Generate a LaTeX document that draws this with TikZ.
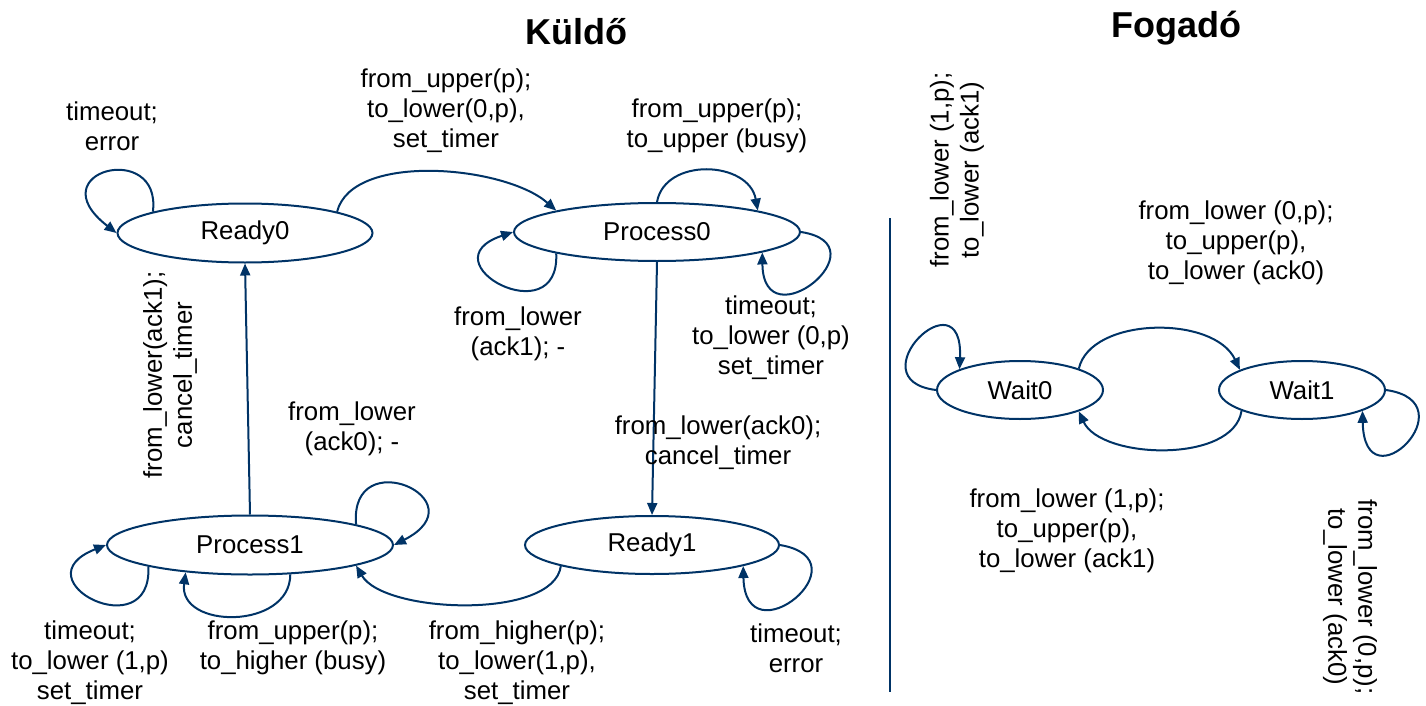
\documentclass[tikz,border=0pt]{standalone}
\usepackage{fontspec}
\setmainfont{Liberation Sans}
\usetikzlibrary{shapes.geometric,arrows.meta}
\definecolor{edgeblue}{RGB}{0,51,102}
\begin{document}
\begin{tikzpicture}[x=1pt,y=-1pt,
  st/.style={ellipse, draw=edgeblue, line width=2pt, inner sep=0pt, font=\fontsize{25.8}{30}\selectfont},
  arr/.style={draw=edgeblue, line width=2pt, -{Triangle[length=12pt,width=10pt]}},
  lbl/.style={align=center, font=\fontsize{25.8}{30}\selectfont, inner sep=0pt},
  ttl/.style={font=\fontsize{36}{40}\selectfont\bfseries}]
\useasboundingbox (0,0) rectangle (1426,706);

% titles
\node[ttl] (t1) at (576,32) {Küldő};
\node[ttl] (t2) at (1176,28) {Fogadó};

% states
\node[st, minimum width=255pt, minimum height=59pt] (R0) at (245,233) {Ready0};
\node[st, minimum width=286pt, minimum height=58pt] (P0) at (657,232) {Process0};
\node[st, minimum width=286pt, minimum height=59pt] (P1) at (250,545) {Process1};
\node[st, minimum width=254pt, minimum height=58pt] (R1) at (652,545) {Ready1};
\node[st, minimum width=166pt, minimum height=58pt] (W0) at (1020,390) {Wait0};
\node[st, minimum width=166pt, minimum height=58pt] (W1) at (1302,390) {Wait1};

% separator
\coordinate (s1) at (890,218);
\coordinate (s2) at (890,692);
\draw[edgeblue, line width=2pt] (s1) -- (s2);

% connectors
\draw[arr] (R0.167) .. controls +(9,-72) and +(-80,-62) .. (R0.west);
\draw[arr] (R0.13) .. controls +(15,-60) and +(-51,-45) .. (P0.168);
\draw[arr] (P0.north) .. controls +(8,-45) and +(-9,-50) .. (P0.12);
\draw[arr] (P0.192) .. controls +(4,82) and +(-89,30) .. (P0.west);
\draw[arr] (P0.east) .. controls +(84,13) and +(1,91) .. (P0.349);
\draw[arr] (P0.south) -- (R1.north);
\draw[arr] (P1.north) -- (R0.south);
\draw[arr] (P1.11) .. controls +(-7,-83) and +(88,-45) .. (P1.east);
\draw[arr] (P1.192) .. controls +(4,82) and +(-89,35) .. (P1.west);
\draw[arr] (P1.324) .. controls +(0,56) and +(-8,57) .. (P1.203);
\draw[arr] (R1.193) .. controls +(-7,54) and +(28,48) .. (P1.349);
\draw[arr] (R1.east) .. controls +(88,15) and +(2,95) .. (R1.347);
\draw[arr] (W0.west) .. controls +(-82,-10) and +(4,-97) .. (W0.161);
\draw[arr] (W0.20) .. controls +(12,-52) and +(-26,-55) .. (W1.162);
\draw[arr] (W1.199) .. controls +(-8,53) and +(22,48) .. (W0.340);
\draw[arr] (W1.east) .. controls +(85,12) and +(2,98) .. (W1.341);

% labels
\node[lbl] (l1) at (112,126) {timeout;\\error};
\node[lbl] (l2) at (446,111) {from\_upper(p);\\to\_lower(0,p),\\set\_timer};
\node[lbl] (l3) at (717,126) {from\_upper(p);\\to\_upper (busy)};
\node[lbl] (l4) at (518,334) {from\_lower\\(ack1); -};
\node[lbl] (l5) at (771,338) {timeout;\\to\_lower (0,p)\\set\_timer};
\node[lbl,rotate=90] (l6) at (170,375) {from\_lower(ack1);\\cancel\_timer};
\node[lbl] (l7) at (352,429) {from\_lower\\(ack0); -};
\node[lbl] (l8) at (718,443) {from\_lower(ack0);\\cancel\_timer};
\node[lbl] (l9) at (90,663) {timeout;\\to\_lower (1,p)\\set\_timer};
\node[lbl] (l10) at (293,648) {from\_upper(p);\\to\_higher (busy)};
\node[lbl] (l11) at (517,663) {from\_higher(p);\\to\_lower(1,p),\\set\_timer};
\node[lbl] (l12) at (796,648) {timeout;\\error};
\node[lbl,rotate=90] (l13) at (957,170) {from\_lower (1,p);\\to\_lower (ack1)};
\node[lbl] (l14) at (1236,243) {from\_lower (0,p);\\to\_upper(p),\\to\_lower (ack0)};
\node[lbl] (l15) at (1067,531) {from\_lower (1,p);\\to\_upper(p),\\to\_lower (ack1)};
\node[lbl,rotate=-90] (l16) at (1350,597) {from\_lower (0,p);\\to\_lower (ack0)};
\end{tikzpicture}
\end{document}
